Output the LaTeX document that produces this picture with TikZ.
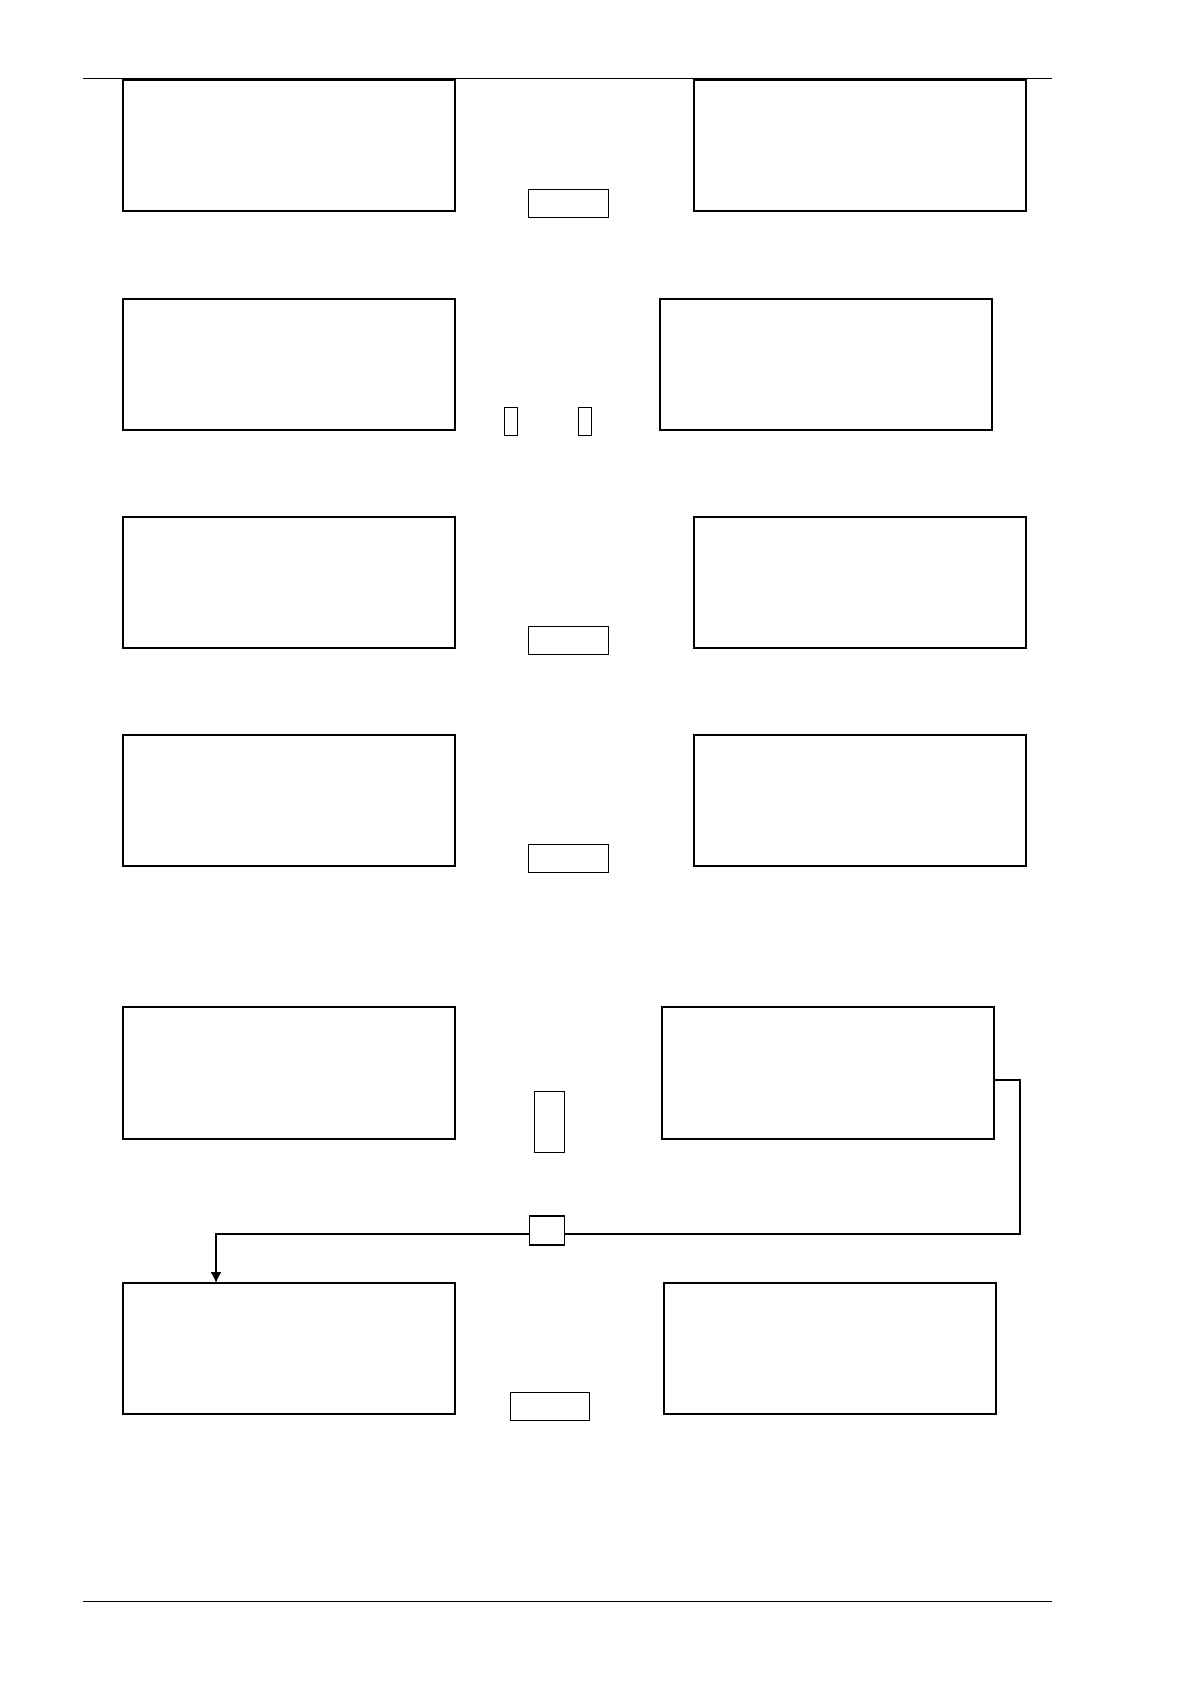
\documentclass[tikz,border=0pt]{standalone}
\usepackage{tikz}
\tikzset{every picture/.style={line width=0.75pt}}
\usetikzlibrary{arrows.meta}
\tikzset{
  bigbox/.style={draw, rectangle, line width=1pt, fill=white, inner sep=0pt, outer sep=0pt,
    minimum width=166pt, minimum height=65.5pt},
  smallbox/.style={draw, rectangle, line width=0.5pt, fill=white, inner sep=0pt, outer sep=0pt},
  flow/.style={draw, line width=0.85pt},
  rulerline/.style={draw, line width=0.5pt}
}
\begin{document}
\begin{tikzpicture}[x=0.5pt,y=0.5pt,yscale=-1]
\useasboundingbox (0,0) rectangle (1190,1684);

%Straight Lines [header rule]
\coordinate (hdL) at (83,79);
\coordinate (hdR) at (1052,79);
\draw [rulerline] (hdL) -- (hdR);
%Straight Lines [footer rule]
\coordinate (ftL) at (83,1601);
\coordinate (ftR) at (1052,1601);
\draw [rulerline] (ftL) -- (ftR);

%Shape: Rectangle [row 1]
\node [bigbox] (l1) at (289,146) {};
\node [bigbox] (r1) at (860,146) {};
\node [smallbox, minimum width=40pt, minimum height=14pt] (s1) at (568,204) {};

%Shape: Rectangle [row 2]
\node [bigbox] (l2) at (289,364.5) {};
\node [bigbox] (r2) at (825.5,364.5) {};
\node [smallbox, minimum width=6.5pt, minimum height=14pt] (s2a) at (510.5,422) {};
\node [smallbox, minimum width=6.5pt, minimum height=14pt] (s2b) at (585,422) {};

%Shape: Rectangle [row 3]
\node [bigbox] (l3) at (289,582.5) {};
\node [bigbox] (r3) at (860,582.5) {};
\node [smallbox, minimum width=40pt, minimum height=14pt] (s3) at (568,640) {};

%Shape: Rectangle [row 4]
\node [bigbox] (l4) at (289,800.5) {};
\node [bigbox] (r4) at (860,800.5) {};
\node [smallbox, minimum width=40pt, minimum height=14pt] (s4) at (568,858) {};

%Shape: Rectangle [row 5]
\node [bigbox, minimum height=66pt] (l5) at (289,1073) {};
\node [bigbox, minimum height=66pt] (r5) at (827.5,1073) {};
\node [smallbox, minimum width=15pt, minimum height=30.5pt] (s5) at (549.5,1121.5) {};

%Shape: Rectangle [row 6]
\node [bigbox, line width=0.8pt] (l6) at (289,1348.5) {};
\node [bigbox, line width=0.8pt] (r6) at (830,1348.5) {};
\node [smallbox, minimum width=39.5pt, minimum height=14pt] (s6) at (549.5,1406) {};

%Connector [row 5 right -> row 6 left]
\coordinate (turn) at (1020,1234);
\coordinate (drop) at ([xshift=46.5pt]l6.north west);
\node [smallbox, line width=0.9pt, minimum width=17.5pt, minimum height=14.5pt] (sq) at (547,1230.5) {};
\draw [flow] ([yshift=3.5pt]r5.east) -| (turn) -- (turn -| sq.east);
\draw [flow, -{Latex[length=5.5pt,width=5.5pt]}] (sq.west |- turn) -| (drop);
\end{tikzpicture}
\end{document}
